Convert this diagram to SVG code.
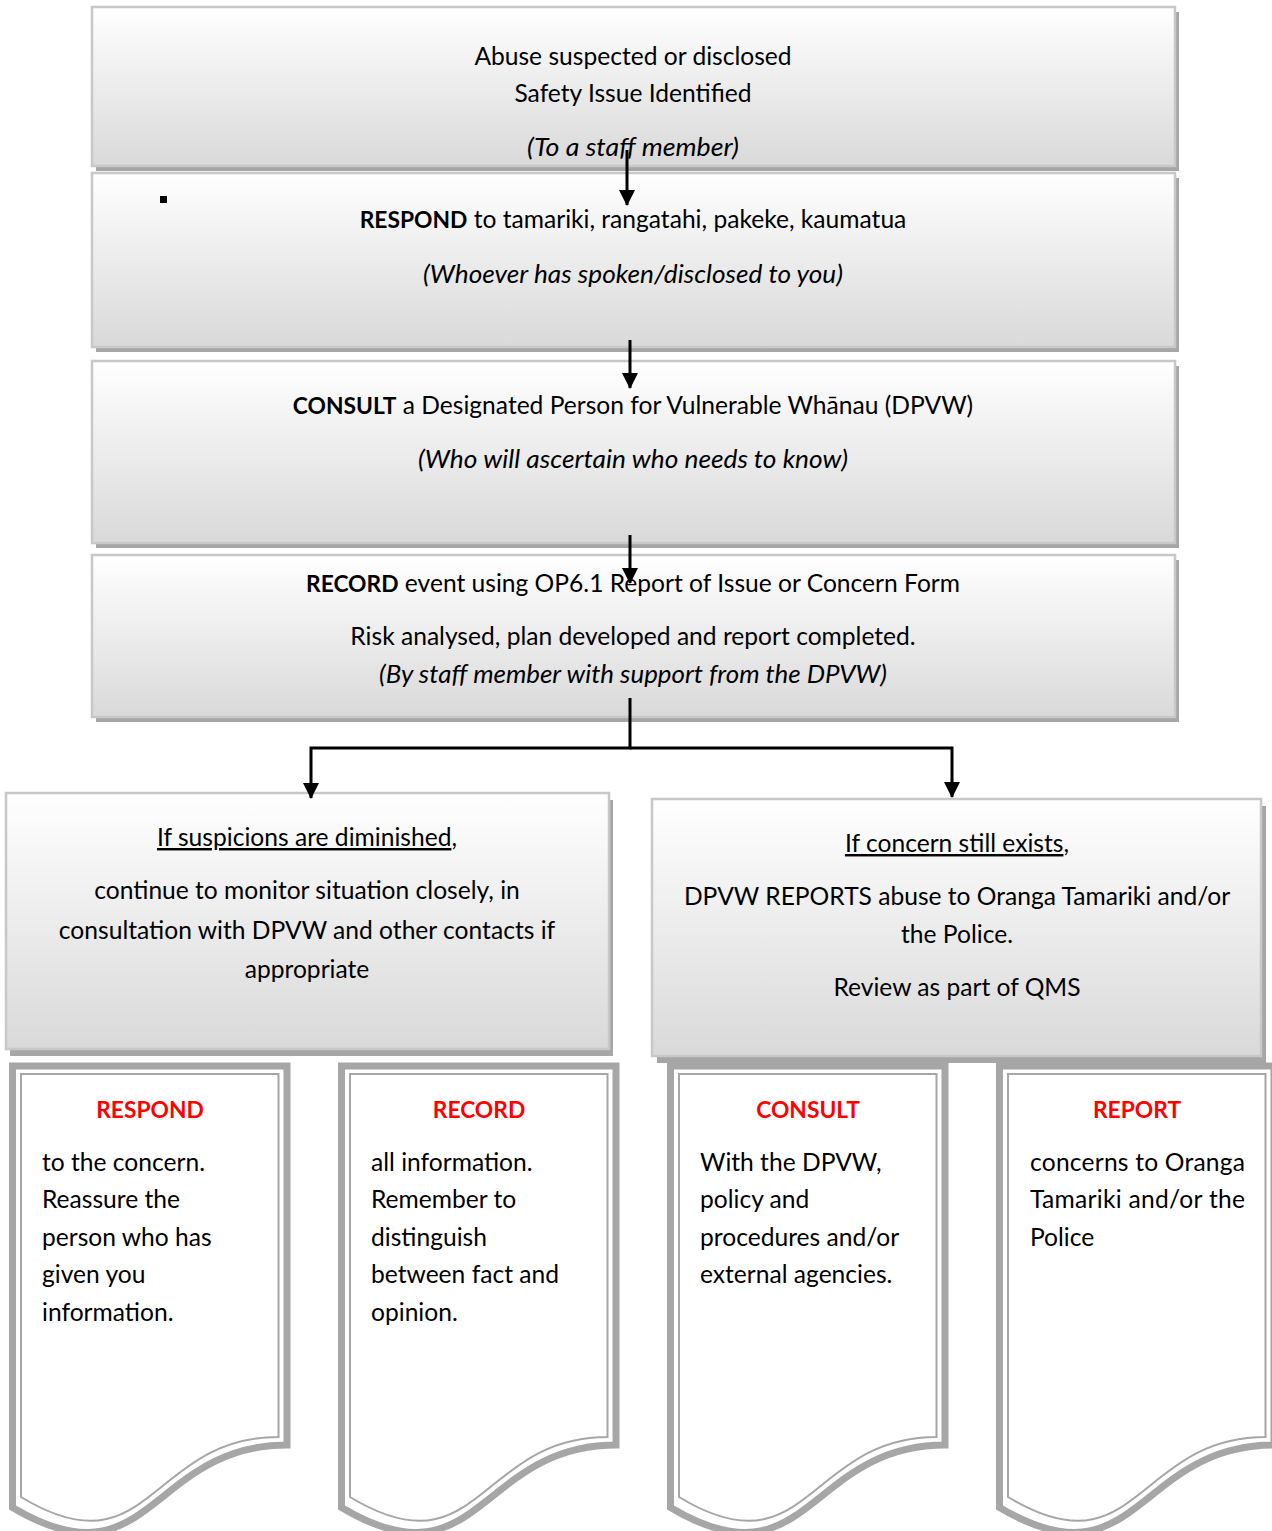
<svg xmlns="http://www.w3.org/2000/svg" width="1272" height="1531" viewBox="0 0 1272 1531">
<style>
text{font-family:Lato,"Liberation Sans",sans-serif;font-size:24.6px;fill:#000}
.c{text-anchor:middle}
.i{font-style:italic}
.b{font-weight:bold;font-size:22.8px}
.red{fill:#ff0000;font-weight:bold;font-size:22.8px;text-anchor:middle}
.box{fill:url(#g);stroke:#c8c8c8;stroke-width:2.5}
.sh{fill:#a6a6a6}
.conn{fill:none;stroke:#000;stroke-width:3}
.dout{fill:#fff;stroke:#a6a6a6;stroke-width:7}
.din{fill:none;stroke:#a6a6a6;stroke-width:2}
</style>
<defs>
<linearGradient id="g" x1="0" y1="0" x2="0" y2="1">
<stop offset="0" stop-color="#ffffff"/>
<stop offset="0.5" stop-color="#ececec"/>
<stop offset="1" stop-color="#d9d9d9"/>
</linearGradient>
<marker id="ah" markerUnits="userSpaceOnUse" markerWidth="16" markerHeight="16" refX="15" refY="8" orient="auto">
<path d="M0,0 L16,8 L0,16 Z" fill="#000"/>
</marker>
<path id="docO" d="M12.5,1066 H287 V1445 C149.75,1445 149.75,1589.4 12.5,1507.4 Z"/>
<path id="docI" d="M21,1074 H278.5 V1437 C149.75,1437 149.75,1575 21,1497 Z"/>
</defs>

<g id="node1">
<rect class="sh" x="96" y="12" width="1083" height="159"/>
<rect class="box" x="92" y="7" width="1083" height="159"/>
<text class="c" x="633" y="65">Abuse suspected or disclosed</text>
<text class="c" x="633" y="102">Safety Issue Identified</text>
<text class="c i" x="633" y="156" textLength="212" lengthAdjust="spacingAndGlyphs">(To a staff member)</text>
</g>

<g id="node2">
<rect class="sh" x="96" y="178" width="1083" height="174"/>
<rect class="box" x="92" y="173" width="1083" height="174"/>
<rect x="160" y="196" width="7" height="7" fill="#000"/>
<text class="c" x="633" y="228"><tspan class="b">RESPOND</tspan> to tamariki, rangatahi, pakeke, kaumatua</text>
<text class="c i" x="633" y="283" textLength="420" lengthAdjust="spacingAndGlyphs">(Whoever has spoken/disclosed to you)</text>
</g>

<g id="node3">
<rect class="sh" x="96" y="366" width="1083" height="182"/>
<rect class="box" x="92" y="361" width="1083" height="182"/>
<text class="c" x="633" y="414"><tspan class="b">CONSULT</tspan> a Designated Person for Vulnerable Whānau (DPVW)</text>
<text class="c i" x="633" y="468" textLength="430" lengthAdjust="spacingAndGlyphs">(Who will ascertain who needs to know)</text>
</g>

<g id="node4">
<rect class="sh" x="96" y="560" width="1083" height="162"/>
<rect class="box" x="92" y="555" width="1083" height="162"/>
<text class="c" x="633" y="592"><tspan class="b">RECORD</tspan> event using OP6.1 Report of Issue or Concern Form</text>
<text class="c" x="633" y="645">Risk analysed, plan developed and report completed.</text>
<text class="c i" x="633" y="683" textLength="508" lengthAdjust="spacingAndGlyphs">(By staff member with support from the DPVW)</text>
</g>

<g id="node5">
<rect class="sh" x="10" y="800" width="603" height="256"/>
<rect class="box" x="6" y="793" width="603" height="256"/>
<text class="c" x="307" y="846"><tspan text-decoration="underline">If suspicions are diminished</tspan>,</text>
<text class="c" x="307" y="899">continue to monitor situation closely, in</text>
<text class="c" x="307" y="939">consultation with DPVW and other contacts if</text>
<text class="c" x="307" y="978">appropriate</text>
</g>

<g id="node6">
<rect class="sh" x="657" y="806" width="609" height="257"/>
<rect class="box" x="652" y="799" width="609" height="257"/>
<text class="c" x="957" y="852"><tspan text-decoration="underline">If concern still exists</tspan>,</text>
<text class="c" x="957" y="905">DPVW REPORTS abuse to Oranga Tamariki and/or</text>
<text class="c" x="957" y="943">the Police.</text>
<text class="c" x="957" y="996">Review as part of QMS</text>
</g>

<g id="doc1">
<use href="#docO" class="dout"/>
<use href="#docI" class="din"/>
<text class="red" x="150" y="1118">RESPOND</text>
<text x="42" y="1171">to the concern.</text>
<text x="42" y="1208">Reassure the</text>
<text x="42" y="1246">person who has</text>
<text x="42" y="1283">given you</text>
<text x="42" y="1321">information.</text>
</g>

<g id="doc2">
<use href="#docO" class="dout" transform="translate(329,0)"/>
<use href="#docI" class="din" transform="translate(329,0)"/>
<text class="red" x="479" y="1118">RECORD</text>
<text x="371" y="1171">all information.</text>
<text x="371" y="1208">Remember to</text>
<text x="371" y="1246">distinguish</text>
<text x="371" y="1283">between fact and</text>
<text x="371" y="1321">opinion.</text>
</g>

<g id="doc3">
<use href="#docO" class="dout" transform="translate(658,0)"/>
<use href="#docI" class="din" transform="translate(658,0)"/>
<text class="red" x="808" y="1118">CONSULT</text>
<text x="700" y="1171">With the DPVW,</text>
<text x="700" y="1208">policy and</text>
<text x="700" y="1246">procedures and/or</text>
<text x="700" y="1283">external agencies.</text>
</g>

<g id="doc4">
<use href="#docO" class="dout" transform="translate(987,0)"/>
<use href="#docI" class="din" transform="translate(987,0)"/>
<text class="red" x="1137" y="1118">REPORT</text>
<text x="1030" y="1171" textLength="215" lengthAdjust="spacing">concerns to Oranga</text>
<text x="1030" y="1208" textLength="215" lengthAdjust="spacing">Tamariki and/or the</text>
<text x="1030" y="1246">Police</text>
</g>

<g id="connectors">
<path class="conn" d="M627,150 V205" marker-end="url(#ah)"/>
<path class="conn" d="M630,340 V388" marker-end="url(#ah)"/>
<path class="conn" d="M630,535 V583" marker-end="url(#ah)"/>
<path class="conn" d="M630,698 V748 H311 V798" marker-end="url(#ah)"/>
<path class="conn" d="M630,748 H952 V797" marker-end="url(#ah)"/>
</g>
</svg>
